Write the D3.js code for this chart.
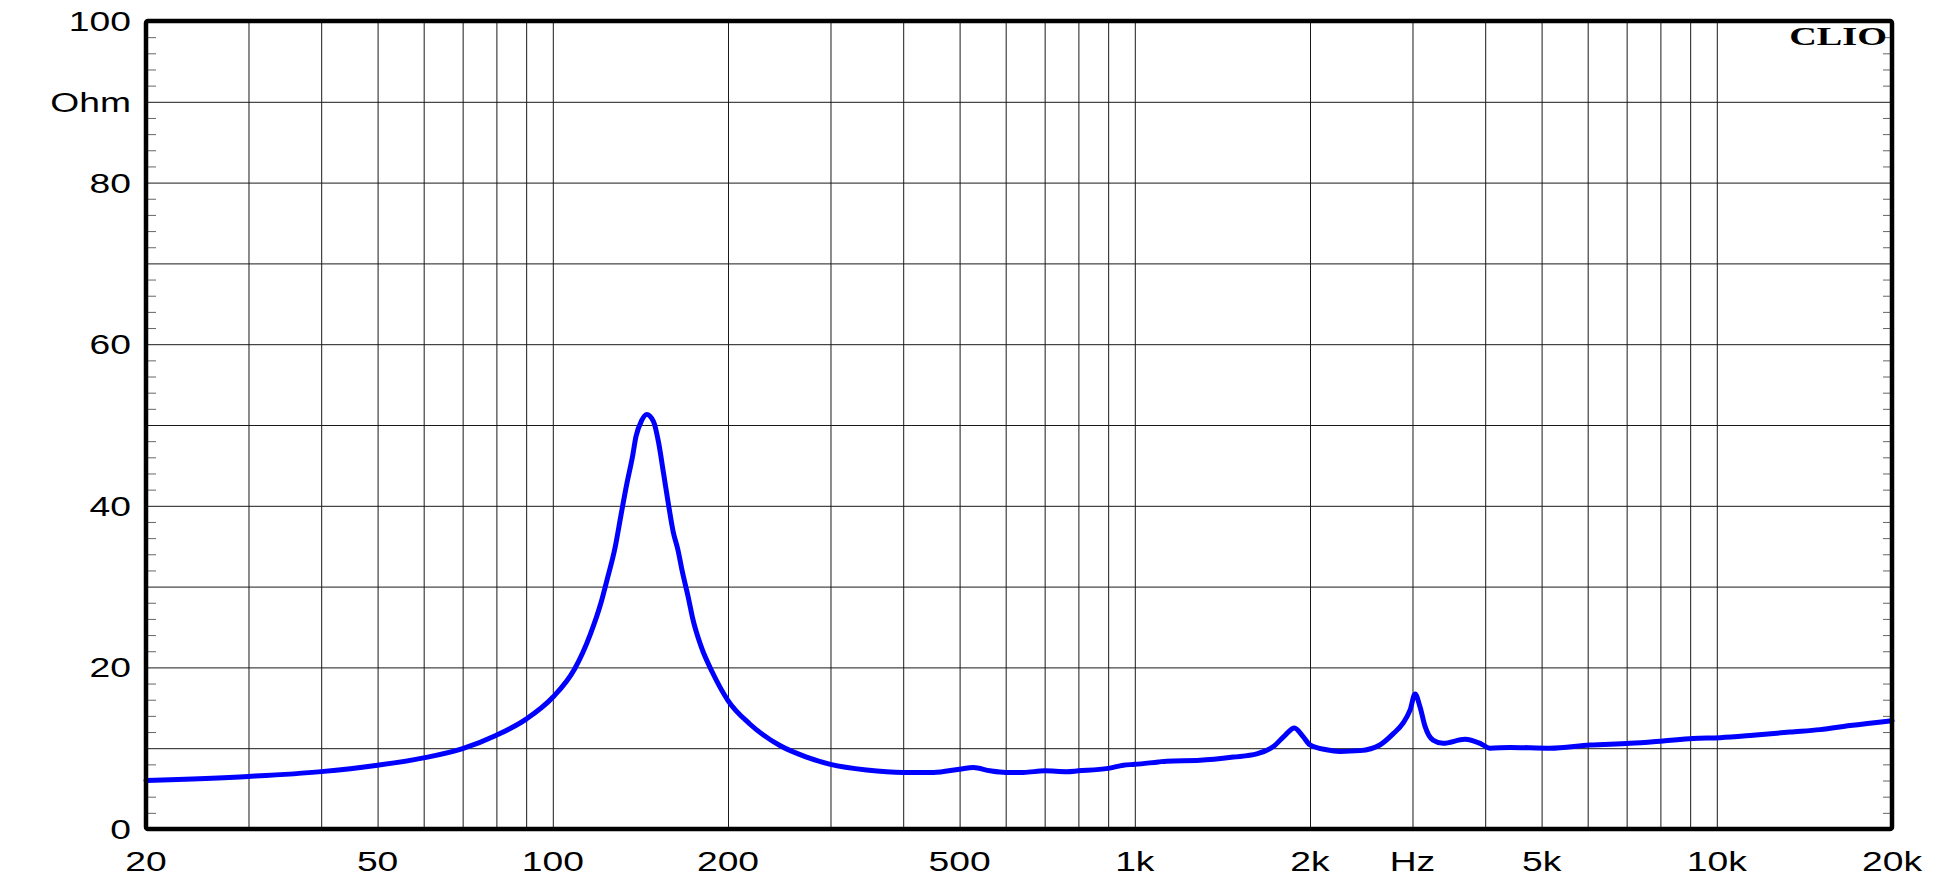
<!DOCTYPE html>
<html>
<head>
<meta charset="utf-8">
<script src="https://cdn.jsdelivr.net/npm/d3@7"></script>
<style>
  html, body { margin: 0; padding: 0; background: #fff; }
  svg { display: block; }
  text.lbl { font-family: "Liberation Sans", Arial, sans-serif; fill: #000; }
  text.brand { font-family: "Liberation Serif", "DejaVu Serif", serif; font-weight: bold; fill: #000; }
</style>
</head>
<body>
<svg id="chart" width="1942" height="880"></svg>
<script>
// ---- data ----
const freq = [20, 30, 40, 50, 60, 70, 80, 90, 100, 109, 116, 121, 124, 128, 131, 134, 137, 139, 142, 145,
  149, 152, 155, 158, 161, 164, 167, 171, 174, 180, 188, 200, 218, 246, 273, 300, 346, 400, 451, 500,
  528, 564, 600, 644, 700, 764, 800, 900, 956, 1000, 1098, 1134, 1294, 1477, 1620, 1730, 1812, 1880, 1948, 2000,
  2135, 2252, 2438, 2637, 2781, 2890, 2971, 3031, 3091, 3153, 3254, 3386, 3692, 3920, 4077, 4413, 5169, 6055, 7092, 8083,
  9099, 10127, 11540, 13360, 15040, 16940, 20000];
const ohm = [6.0, 6.5, 7.1, 7.9, 8.8, 9.95, 11.6, 13.6, 16.3, 19.8, 24.1, 28.0, 30.9, 34.9, 38.9, 42.7, 46.0, 48.6, 50.5, 51.3,
  50.4, 47.8, 44.0, 40.2, 36.8, 34.6, 31.8, 28.6, 26.0, 22.5, 19.4, 15.9, 13.0, 10.3, 8.9, 8.0, 7.3, 7.0, 7.0, 7.4,
  7.6, 7.2, 7.0, 7.0, 7.2, 7.1, 7.2, 7.5, 7.9, 8.0, 8.3, 8.4, 8.5, 8.9, 9.3, 10.2, 11.6, 12.5, 11.4, 10.4,
  9.8, 9.6, 9.7, 10.4, 11.8, 13.1, 14.7, 16.7, 15.1, 12.7, 11.0, 10.6, 11.1, 10.6, 10.0, 10.1, 10.0, 10.4, 10.6, 10.9,
  11.2, 11.3, 11.6, 12.0, 12.3, 12.8, 13.4];

const xGridValues = [20, 30, 40, 50, 60, 70, 80, 90, 100, 200, 300, 400, 500, 600, 700, 800, 900,
  1000, 2000, 3000, 4000, 5000, 6000, 7000, 8000, 9000, 10000, 20000];
const xTickValues = [20, 50, 100, 200, 500, 1000, 2000, 3000, 5000, 10000, 20000];
const xTickLabels = ["20", "50", "100", "200", "500", "1k", "2k", "Hz", "5k", "10k", "20k"];
const yGridValues = [0, 10, 20, 30, 40, 50, 60, 70, 80, 90, 100];
const yMinorValues = [2, 4, 6, 8, 12, 14, 16, 18, 22, 24, 26, 28, 32, 34, 36, 38, 42, 44, 46, 48,
  52, 54, 56, 58, 62, 64, 66, 68, 72, 74, 76, 78, 82, 84, 86, 88, 92, 94, 96, 98];
const yTickValues = [0, 20, 40, 60, 80, 90, 100];
const yTickLabels = ["0", "20", "40", "60", "80", "Ohm", "100"];
const brand = "CLIO";

// ---- layout ----
const L = 146, R = 1892, T = 21, B = 829;
const svg = d3.select("#chart");
const x = d3.scaleLog().domain([20, 20000]).range([L, R]);
const y = d3.scaleLinear().domain([0, 100]).range([B, T]);

// vertical grid
svg.append("g")
  .attr("transform", `translate(0,${B})`)
  .call(d3.axisBottom(x).tickValues(xGridValues).tickSize(-(B - T)).tickFormat(""))
  .call(g => g.select(".domain").remove())
  .call(g => g.selectAll("line").attr("stroke", "#1a1a1a").attr("stroke-width", 1));

// horizontal grid
svg.append("g")
  .attr("transform", `translate(${L},0)`)
  .call(d3.axisLeft(y).tickValues(yGridValues).tickSize(-(R - L)).tickFormat(""))
  .call(g => g.select(".domain").remove())
  .call(g => g.selectAll("line").attr("stroke", "#1a1a1a").attr("stroke-width", 1));

// minor ticks (left & right, inward)
svg.append("g")
  .attr("transform", `translate(${L},0)`)
  .call(d3.axisRight(y).tickValues(yMinorValues).tickSize(10).tickFormat(""))
  .call(g => g.select(".domain").remove())
  .call(g => g.selectAll("line").attr("stroke", "#666").attr("stroke-width", 1));
svg.append("g")
  .attr("transform", `translate(${R},0)`)
  .call(d3.axisLeft(y).tickValues(yMinorValues).tickSize(9).tickFormat(""))
  .call(g => g.select(".domain").remove())
  .call(g => g.selectAll("line").attr("stroke", "#666").attr("stroke-width", 1));

// curve
const pts = freq.map((f, i) => [f, ohm[i]]);
const line = d3.line().x(d => x(d[0])).y(d => y(d[1])).curve(d3.curveMonotoneX);
svg.append("path")
  .datum(pts)
  .attr("d", line)
  .attr("fill", "none")
  .attr("stroke", "#0000ff")
  .attr("stroke-width", 5)
  .attr("stroke-linejoin", "round")
  .attr("stroke-linecap", "round");

// frame
svg.append("rect")
  .attr("x", L).attr("y", T).attr("width", R - L).attr("height", B - T)
  .attr("fill", "none").attr("stroke", "#000").attr("stroke-width", 4.5)
  .attr("rx", 2).attr("stroke-linejoin", "round");

// x labels
const sx = 1.33;
svg.append("g").selectAll("text")
  .data(xTickValues)
  .join("text")
  .attr("class", "lbl")
  .attr("transform", d => `translate(${x(d)},871) scale(${sx},1)`)
  .attr("text-anchor", "middle")
  .attr("font-size", 28)
  .text((d, i) => xTickLabels[i]);

// y labels
svg.append("g").selectAll("text")
  .data(yTickValues)
  .join("text")
  .attr("class", "lbl")
  .attr("transform", d => `translate(131,${y(d) + 10}) scale(${sx},1)`)
  .attr("text-anchor", "end")
  .attr("font-size", 28)
  .text((d, i) => yTickLabels[i]);

// brand
svg.append("text")
  .attr("class", "brand")
  .attr("transform", `translate(1887,45) scale(1.5,1)`)
  .attr("text-anchor", "end")
  .attr("font-size", 25.5)
  .text(brand);
</script>
</body>
</html>
